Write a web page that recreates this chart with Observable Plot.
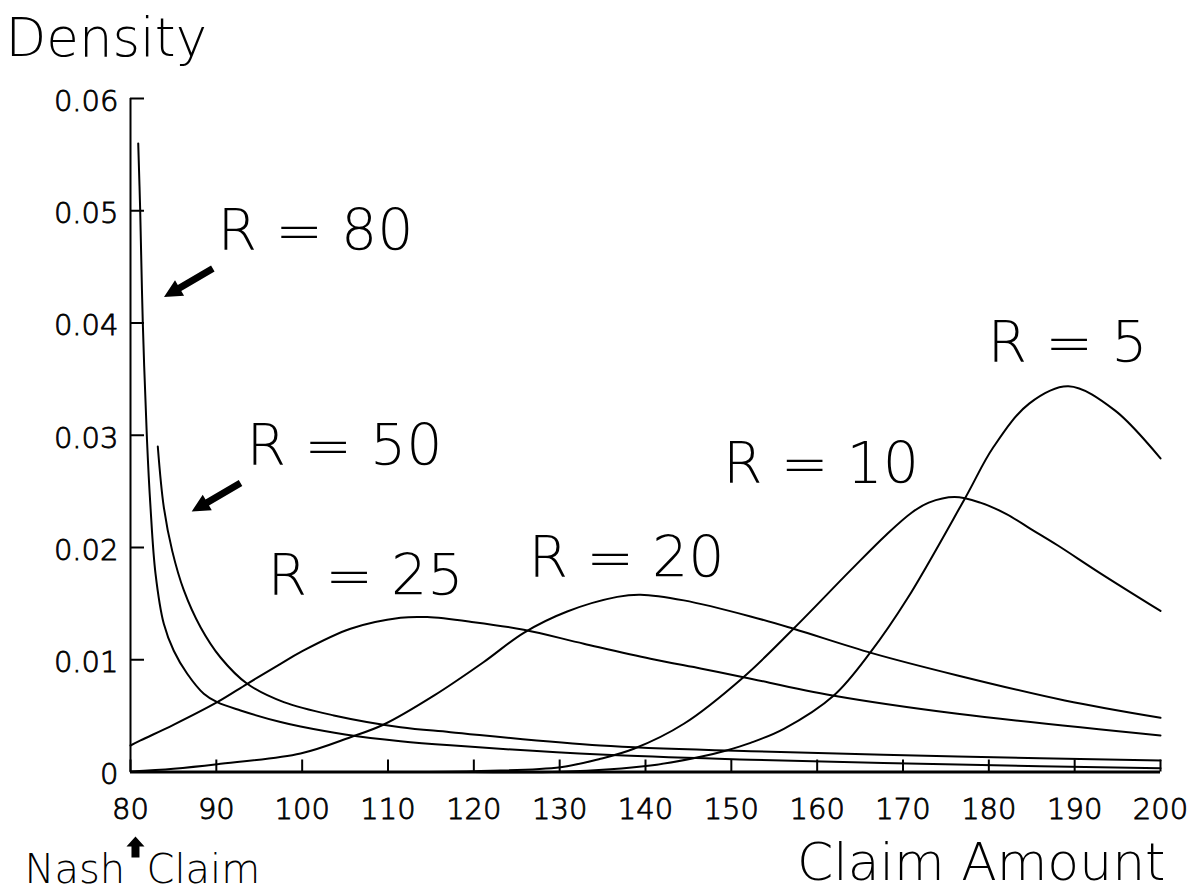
<!DOCTYPE html>
<html>
<head>
<meta charset="utf-8">
<script src="https://cdn.jsdelivr.net/npm/d3@7"></script>
<script src="https://cdn.jsdelivr.net/npm/@observablehq/plot@0.6"></script>
<style>
  html, body { margin: 0; padding: 0; background: #fff; }
  #chart svg { display: block; }
  #chart svg text { font-weight: 200; }
  #chart svg g[aria-label="y-axis tick label"] text,
  #chart svg g[aria-label="x-axis tick label"] text { font-weight: 200; stroke: #000; stroke-width: 0.8px; }
</style>
</head>
<body>
<div id="chart"></div>
<script>
// ---- Data (Claim Amount vs Density) ----
const r80x = [80.90, 81.13, 81.43, 81.92, 82.33, 82.91, 83.88, 85.04, 86.61, 88.54, 90.10, 92.82, 97.48, 99.81, 105.0, 111.46, 117.28, 134.76, 152.24, 176.35, 200];
const r80y = [0.0560, 0.0500, 0.0401, 0.0296, 0.0236, 0.0177, 0.0132, 0.0108, 0.00875, 0.00697, 0.00622, 0.00548, 0.00445, 0.00405, 0.00335, 0.00275, 0.00238, 0.00155, 0.00110, 0.00066, 0.00033];

const r50x = [83.18, 83.88, 84.86, 86.21, 88.16, 90.49, 93.60, 97.86, 103.69, 111.46, 117.28, 134.76, 152.24, 176.35, 200];
const r50y = [0.0290, 0.0236, 0.0197, 0.0162, 0.0129, 0.0102, 0.00786, 0.00622, 0.00504, 0.00399, 0.00355, 0.00236, 0.00185, 0.00138, 0.00102];

const r25x = [80, 81.17, 85, 90.10, 93.60, 97.48, 99.81, 105.63, 111.46, 114.57, 120.0, 125.82, 132.81, 140.58, 146.55, 151.41, 161.80, 176.36, 200];
const r25y = [0.00236, 0.00281, 0.0042, 0.00622, 0.00786, 0.00964, 0.01068, 0.01276, 0.01374, 0.01380, 0.01335, 0.01267, 0.01143, 0.01009, 0.0092, 0.00845, 0.00682, 0.00519, 0.00325];

const r20x = [80, 85, 90.1, 99.81, 105.63, 109.51, 115.34, 121.16, 125.82, 130.88, 136.71, 139.42, 144.47, 152.24, 157.24, 166.38, 176.36, 188.85, 200];
const r20y = [0.00005, 0.0003, 0.0007, 0.00165, 0.0031, 0.00423, 0.0068, 0.0098, 0.0124, 0.0143, 0.0156, 0.0158, 0.01529, 0.01386, 0.01276, 0.01059, 0.0086, 0.00637, 0.00483];

const r10x = [110, 120, 130.1, 134.76, 138.64, 144.47, 151.41, 157.24, 163.88, 168, 171, 173, 176, 179, 182, 185, 188, 193.0, 200];
const r10y = [0, 0.00007, 0.00043, 0.00118, 0.00207, 0.0043, 0.00845, 0.01276, 0.01796, 0.0211, 0.0231, 0.0240, 0.0245, 0.0240, 0.0230, 0.0216, 0.0202, 0.0177, 0.01435];

const r5x = [120, 130.1, 140.58, 146.55, 149.32, 152.24, 156.12, 161.94, 166.22, 170.49, 177.2, 180.54, 184.70, 189.27, 194.68, 200];
const r5y = [0, 0.00002, 0.00058, 0.00138, 0.0019, 0.0026, 0.00385, 0.00682, 0.01068, 0.01543, 0.02435, 0.02895, 0.03282, 0.03436, 0.03222, 0.02794];

const seriesNames = ["R = 80", "R = 50", "R = 25", "R = 20", "R = 10", "R = 5"];
const seriesX = [r80x, r50x, r25x, r20x, r10x, r5x];
const seriesY = [r80y, r50y, r25y, r20y, r10y, r5y];

const xTicks = [80, 90, 100, 110, 120, 130, 140, 150, 160, 170, 180, 190, 200];
const yTicks = [0, 0.01, 0.02, 0.03, 0.04, 0.05, 0.06];
const yTickLabels = ["0", "0.01", "0.02", "0.03", "0.04", "0.05", "0.06"];

// ---- Build table ----
const rows = seriesNames.flatMap((name, i) =>
  seriesX[i].map((x, j) => ({series: name, x, y: seriesY[i][j]}))
);

// filled arrow shape for vectors
function arrowShape(shaft, headLen, headHalf) {
  return {
    draw(context, l) {
      const w = shaft / 2;
      context.moveTo(-w, 0);
      context.lineTo(-w, -(l - headLen));
      context.lineTo(-headHalf, -(l - headLen));
      context.lineTo(0, -l);
      context.lineTo(headHalf, -(l - headLen));
      context.lineTo(w, -(l - headLen));
      context.lineTo(w, 0);
      context.closePath();
    }
  };
}

const font = "DejaVu Sans, Verdana, sans-serif";

const chart = Plot.plot({
  width: 1190,
  height: 891,
  marginLeft: 130,
  marginRight: 30,
  marginTop: 98,
  marginBottom: 119.5,
  x: {domain: [80, 200]},
  y: {domain: [0, 0.06]},
  style: {fontFamily: font, color: "black", background: "white", overflow: "visible"},
  marks: [
    // axis lines
    Plot.ruleX([80], {y1: 0, y2: 0.06, stroke: "black", strokeWidth: 2}),
    Plot.ruleY([0], {x1: 80, x2: 200, stroke: "black", strokeWidth: 3}),
    // inward ticks
    Plot.axisY(yTicks, {tickSize: 14, dx: 14, fill: "none", stroke: "black", strokeWidth: 2, label: null}),
    Plot.axisY(yTicks, {tickSize: 0, tickPadding: 12, fontSize: 29, dy: 3,
      tickFormat: (d) => yTickLabels[yTicks.indexOf(d)], label: null, fill: "black"}),
    Plot.axisX(xTicks, {tickSize: 12, dy: -12, fill: "none", stroke: "black", strokeWidth: 2, label: null}),
    Plot.axisX(xTicks, {tickSize: 0, tickPadding: 26, fontSize: 29, label: null, fill: "black"}),
    // curves
    Plot.line(rows, {x: "x", y: "y", z: "series", stroke: "black", strokeWidth: 2, curve: "catmull-rom"}),
    // curve labels
    Plot.text([
      {t: "R = 80", x: 101.55, y: 0.04648},
      {t: "R = 50", x: 104.93, y: 0.02732},
      {t: "R = 25", x: 107.38, y: 0.01573},
      {t: "R = 20", x: 137.79, y: 0.01734},
      {t: "R = 10", x: 160.45, y: 0.02571},
      {t: "R = 5", x: 189.17, y: 0.0365}
    ], {x: "x", y: "y", text: "t", textAnchor: "middle", lineAnchor: "bottom", fontSize: 57, fill: "black"}),
    // pointer arrows
    Plot.vector([{x: 89.59, y: 0.04485}, {x: 92.82, y: 0.02574}], {
      x: "x", y: "y", length: 56.5, rotate: 239.8, anchor: "start",
      shape: arrowShape(7, 18, 9), fill: "black", stroke: "none"
    }),
    Plot.vector([{x: 80.58, y: -0.00762}], {
      x: "x", y: "y", length: 21, rotate: 0, anchor: "start",
      shape: arrowShape(8, 10, 9), fill: "black", stroke: "none"
    }),
    // axis titles
    Plot.text(["Density"], {frameAnchor: "top-left", dx: -125, dy: -43, textAnchor: "start", lineAnchor: "bottom", fontSize: 53, fill: "black"}),
    Plot.text(["Claim Amount"], {frameAnchor: "bottom-right", dx: 5, dy: 108, textAnchor: "end", lineAnchor: "bottom", fontSize: 52, fill: "black"}),
    Plot.text(["Nash"], {frameAnchor: "bottom-left", dx: -106, dy: 111, textAnchor: "start", lineAnchor: "bottom", fontSize: 40, fill: "black"}),
    Plot.text(["Claim"], {frameAnchor: "bottom-left", dx: 16, dy: 111, textAnchor: "start", lineAnchor: "bottom", fontSize: 40, fill: "black"})
  ]
});

document.getElementById("chart").appendChild(chart);
</script>
</body>
</html>
